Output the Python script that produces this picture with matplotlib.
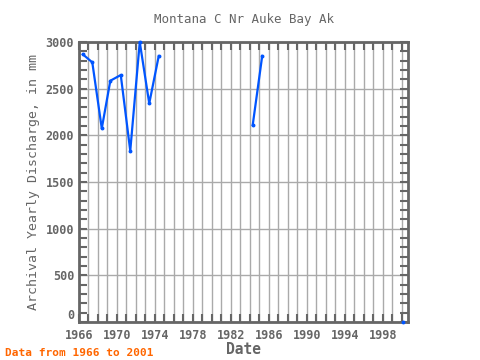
import numpy as np
import matplotlib
matplotlib.use('Agg')
import matplotlib.pyplot as plt
from matplotlib.ticker import MultipleLocator

# Donnees (annee decimale, mm)
dates = [1966.4, 1967.4, 1968.4, 1969.3, 1970.4, 1971.4, 1972.4, 1973.4, 1974.4,
         np.nan, 1984.3, 1985.3, np.nan, 2000.1]
debits = [2868, 2782, 2074, 2585, 2646, 1834, 3000, 2342, 2850,
          np.nan, 2110, 2850, np.nan, 0]
annees_ticks = list(range(1966, 2001, 4))

gris = '#666666'
plt.rcParams['font.family'] = ['DejaVu Sans Mono']

fig = plt.figure(figsize=(4.8, 3.6), dpi=100)
ax = fig.add_axes([79 / 480, 1 - 322 / 360, (408 - 79) / 480, (322 - 42) / 360])

ax.plot(dates, debits, color='#0055ff', linewidth=1.6, marker='o', markersize=1.8,
        clip_on=False, zorder=3)

ax.set_xlim(1966, 2000.66)
ax.set_ylim(0, 3000)
ax.set_xticks(annees_ticks)
ax.xaxis.set_minor_locator(MultipleLocator(1))
ax.yaxis.set_major_locator(MultipleLocator(500))
ax.yaxis.set_minor_locator(MultipleLocator(100))

ax.grid(True, which='major', axis='y', color='#aaaaaa', linewidth=1)
ax.grid(True, which='both', axis='x', color='#aaaaaa', linewidth=1)
ax.set_axisbelow(True)

for s in ax.spines.values():
    s.set_color(gris)
    s.set_linewidth(2)

ax.tick_params(which='both', direction='in', color=gris, width=1.5,
               top=True, right=True, labelcolor=gris, labelsize=8.5)
ax.tick_params(which='major', length=6)
ax.tick_params(which='minor', length=6)
ax.tick_params(axis='x', pad=5)

ax.set_title('Montana C Nr Auke Bay Ak', color=gris, fontsize=9, pad=14)
ax.set_xlabel('Date', color=gris, fontsize=10.5, fontweight='bold', labelpad=0)
ax.set_ylabel('Archival Yearly Discharge, in mm', color=gris, fontsize=9.5, labelpad=4)
fig.text(0.01, 0.01, 'Data from 1966 to 2001', color='#ff6600', fontsize=8,
         fontweight='bold')

fig.canvas.draw()
for lab in ax.get_xticklabels() + ax.get_yticklabels():
    lab.set_fontweight('bold')
# le "0" est un peu remonte dans l'original
for lab in ax.get_yticklabels():
    if lab.get_text() == '0':
        lab.set_verticalalignment('bottom')

plt.savefig('out.png', dpi=100)
